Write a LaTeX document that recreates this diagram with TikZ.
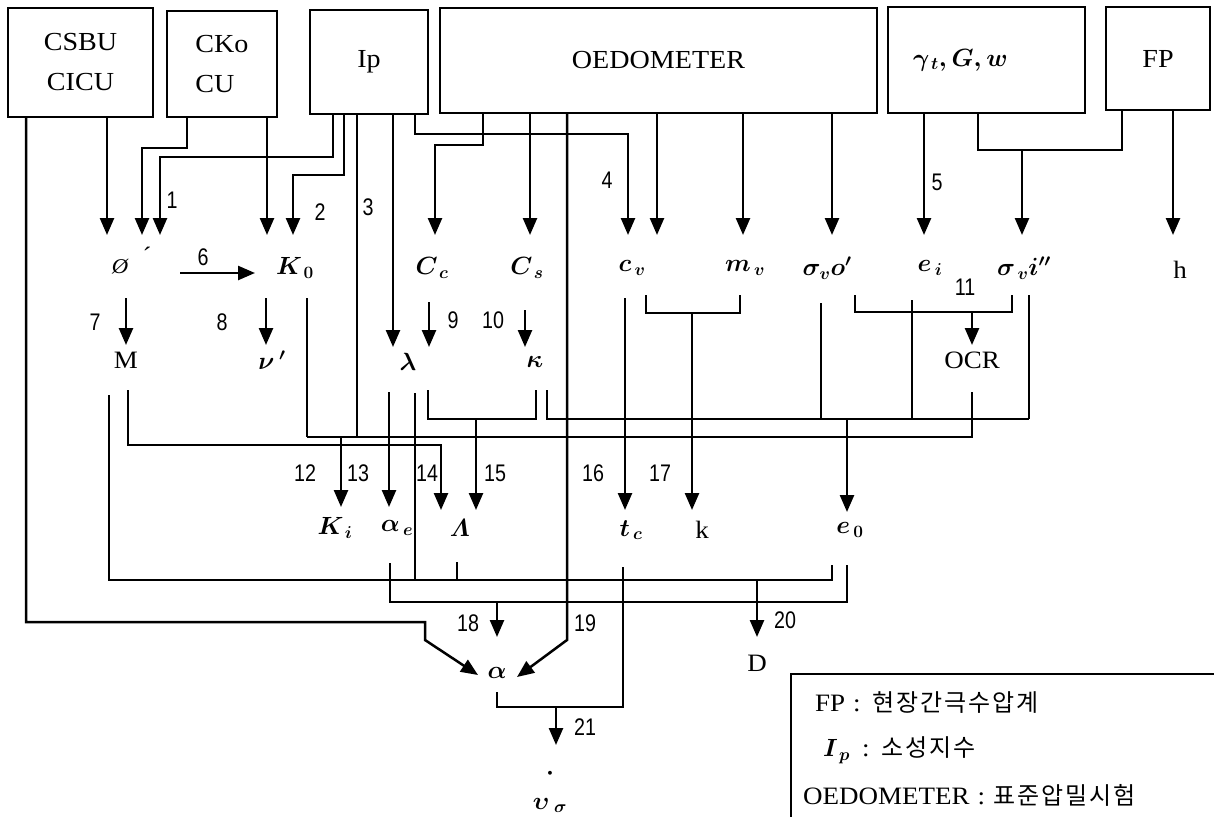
\documentclass[tikz,border=0pt]{standalone}
\usepackage{amsmath}
\usepackage{amssymb}
\usepackage{fontspec}
\usetikzlibrary{arrows.meta}
\setmainfont{Liberation Serif}[FakeStretch=1.08]
\newfontfamily\numfont{Liberation Sans}[FakeStretch=0.82]
\newfontfamily\krfont{Noto Sans CJK KR}[LetterSpace=8]
\begin{document}
\begin{tikzpicture}[x=1pt,y=-1pt,
  ln/.style={line width=2.5pt},
  arr/.style={line width=2.5pt,-{Triangle[length=17pt,width=14pt]}},
  box/.style={draw,line width=2.5pt,inner sep=0pt,font=\fontsize{26}{40}\selectfont,align=center},
  lab/.style={inner sep=0pt,font=\fontsize{25}{28}\selectfont\boldmath},
  num/.style={inner sep=0pt,font=\numfont\fontsize{24}{28}\selectfont},
  leg/.style={inner sep=0pt,anchor=west,font=\fontsize{25}{28}\selectfont}]
\useasboundingbox (0,0) rectangle (1214,816);
% boxes
\node[box,minimum width=145pt,minimum height=109pt] (csbu) at (80.5,62.5) {CSBU\\CICU};
\node[box,minimum width=110pt,minimum height=106pt,align=left] (cko) at (222,64) {CKo\\CU};
\node[box,minimum width=118pt,minimum height=104pt] (ip) at (369,62) {Ip};
\node[box,minimum width=437pt,minimum height=105pt] (oed) at (658.5,60.5) {OEDOMETER};
\node[box,minimum width=197pt,minimum height=106pt] (gam) at (986.5,60) {\hspace{-52pt}$\boldsymbol{\gamma_{\,t}, G, w}$};
\node[box,minimum width=104pt,minimum height=103pt] (fp) at (1158,58.5) {FP};
% row 1 labels
\node[lab,font=\fontsize{21}{26}\selectfont\itshape] (phi) at (120,267) {\O};
\node[lab] (phip) at (147,256) {\textasciiacute};
\node[lab] (k0) at (295,268) {$K_{\,0}$};
\node[lab] (cc) at (432,268) {$C_{\,c}$};
\node[lab] (cs) at (527,268) {$C_{\,s}$};
\node[lab] (cv) at (632,268) {$c_{\,v}$};
\node[lab] (mv) at (745,268) {$m_{\,v}$};
\node[lab] (svo) at (827,268) {$\sigma_{v}o'$};
\node[lab] (ei) at (930,268) {$e_{\,i}$};
\node[lab] (svi) at (1024,268) {$\sigma_{\,v}i''$};
\node[lab] (h) at (1180,270) {h};
% row 2 labels
\node[lab] (m) at (126,360) {M};
\node[lab] (nu) at (272,360) {$\nu\,'$};
\node[lab] (lam) at (408,362) {$\lambda$};
\node[lab] (kap) at (535,362) {$\kappa$};
\node[lab] (ocr) at (972,360) {OCR};
% row 3 labels
\node[lab] (ki) at (335,528) {$K_{\,i}$};
\node[lab] (ae) at (397,528) {$\alpha_{\,e}$};
\node[lab] (Lam) at (460,528) {$\varLambda$};
\node[lab] (tc) at (631,530) {$t_{\,c}$};
\node[lab] (k) at (702,530) {k};
\node[lab] (e0) at (850,530) {$e_{\,0}$};
\node[lab] (D) at (757,663) {D};
\node[lab] (al) at (497,673) {$\alpha$};
\node[lab,align=center,font=\fontsize{24}{30}\selectfont\boldmath] (vg) at (550,790) {$\cdot$\hspace{14pt}\\$\upsilon_{\;\sigma}$};
% numbers
\node[num] (n1) at (172,200) {1};
\node[num] (n2) at (320,212) {2};
\node[num] (n3) at (368,207) {3};
\node[num] (n4) at (607,180) {4};
\node[num] (n5) at (937,182) {5};
\node[num] (n6) at (203,257) {6};
\node[num] (n7) at (95,322) {7};
\node[num] (n8) at (222,322) {8};
\node[num] (n9) at (453,320) {9};
\node[num] (n10) at (493,320) {10};
\node[num] (n11) at (965,287) {11};
\node[num] (n12) at (305,473) {12};
\node[num] (n13) at (358,473) {13};
\node[num] (n14) at (427,473) {14};
\node[num] (n15) at (495,473) {15};
\node[num] (n16) at (593,473) {16};
\node[num] (n17) at (660,473) {17};
\node[num] (n18) at (468,623) {18};
\node[num] (n19) at (585,623) {19};
\node[num] (n20) at (785,620) {20};
\node[num] (n21) at (585,727) {21};
% top connectors
\draw[arr] (107,117) -- (107,235);
\draw[arr] (187,117) |- (142,148) -- (142,235);
\draw[arr] (333,114) |- (160,157) -- (160,235);
\draw[arr] (267,117) -- (267,235);
\draw[arr] (344,114) |- (293,175) -- (293,235);
\draw[arr] (393,114) -- (393,347);
\draw[ln] (357,114) -- (357,437);
\draw[arr] (415,114) |- (628,134) -- (628,235);
\draw[arr] (483,113) |- (435,145) -- (435,235);
\draw[arr] (530,113) -- (530,235);
\draw[arr] (567,113) -- (567,640) -- (517,677);
\draw[arr] (657,113) -- (657,235);
\draw[arr] (743,113) -- (743,235);
\draw[arr] (832,113) -- (832,235);
\draw[arr] (924,113) -- (924,235);
\draw[ln] (978,113) |- (1122,150) -- (1122,110);
\draw[arr] (1022,150) -- (1022,235);
\draw[arr] (1173,110) -- (1173,235);
\draw[arr] (26,117) |- (425,622) -- (425,640) -- (478,675);
% middle
\draw[arr] (180,273) -- (255,273);
\draw[arr] (126,298) -- (126,345);
\draw[arr] (266,298) -- (266,345);
\draw[ln] (307,298) -- (307,437);
\draw[arr] (429,302) -- (429,347);
\draw[arr] (525,310) -- (525,347);
\draw[ln] (646,295) |- (740,313) -- (740,295);
\draw[arr] (692,313) -- (692,510);
\draw[arr] (625,298) -- (625,510);
\draw[ln] (821,303) -- (821,419);
\draw[ln] (912,300) -- (912,419);
\draw[ln] (1029,295) -- (1029,419);
\draw[ln] (855,295) |- (1012,312) -- (1012,295);
\draw[arr] (972,312) -- (972,345);
\draw[ln] (972,392) |- (307,437);
\draw[ln] (547,390) |- (1029,419);
\draw[arr] (847,419) -- (847,512);
\draw[ln] (428,390) |- (536,419) -- (536,390);
\draw[arr] (476,419) -- (476,510);
\draw[arr] (128,390) |- (441,445) -- (441,510);
\draw[arr] (341,437) -- (341,507);
\draw[arr] (389,392) -- (389,507);
\draw[ln] (415,393) -- (415,580);
% lower
\draw[ln] (109,395) |- (832,580) -- (832,565);
\draw[ln] (390,563) |- (847,602) -- (847,565);
\draw[ln] (457,562) -- (457,580);
\draw[ln] (623,567) |- (497,707) -- (497,692);
\draw[arr] (556,707) -- (556,745);
\draw[arr] (497,602) -- (497,637);
\draw[arr] (757,580) -- (757,637);
% legend
\draw[ln] (1216,674) -- (791,674) -- (791,818);
\node[leg] (l1) at (815,703) {FP\hspace{8pt}:\hspace{12pt}{\krfont\fontsize{24}{28}\selectfont 현장간극수압계}};
\node[leg] (l2) at (823,750) {$\boldsymbol{I_{\,p}}$\hspace{12pt}:\hspace{12pt}{\krfont\fontsize{24}{28}\selectfont 소성지수}};
\node[leg] (l3) at (803,795) {OEDOMETER\hspace{8pt}:\hspace{8pt}{\krfont\fontsize{24}{28}\selectfont 표준압밀시험}};
\end{tikzpicture}
\end{document}
